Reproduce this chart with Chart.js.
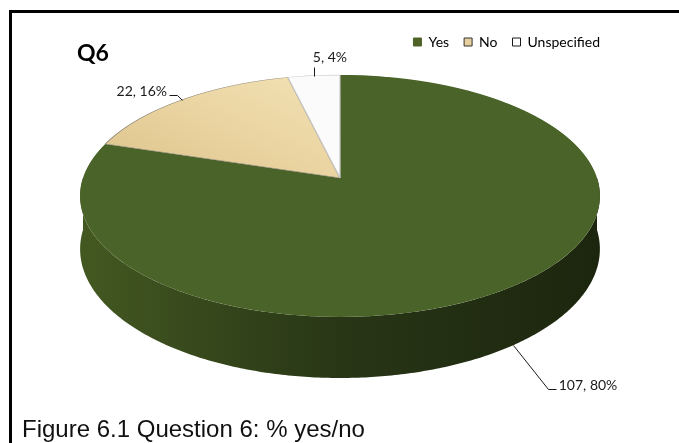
<!DOCTYPE html>
<html>
<head>
<meta charset="utf-8">
<title>Q6</title>
<script src="https://cdn.jsdelivr.net/npm/chart.js@4.4.0/dist/chart.umd.min.js"></script>
<style>
  html, body { margin: 0; padding: 0; background: #ffffff; }
  #wrap { position: relative; width: 679px; height: 443px; overflow: hidden; }
  canvas { display: block; }
</style>
</head>
<body>
<div id="wrap"><canvas id="chart" width="679" height="443"></canvas></div>
<script>
// ---- data ----
const categories = ['Yes', 'No', 'Unspecified'];
const responses = [107, 22, 5];
const chartTitle = 'Q6';
const caption = 'Figure 6.1 Question 6: % yes/no';

// ---- styles ----
const topColors = ['#4a6328', '#e8d29f', '#fbfbfb'];
const sideShades = [
  ['#435821', '#283616', '#1c260e'],
  ['#cbb17c', '#ad955f', '#8c774d'],
  ['#dddddd', '#c4c4c4', '#a8a8a8']
];
const rimColors = ['#4a6328', '#8f8878', '#c8c8c8'];
const rimWidths = [0, 0.8, 0.8];
const legendFill = ['#4f6228', '#e6cf9c', '#ffffff'];
const legendStroke = ['#4f6228', '#333333', '#1a1a1a'];

// perspective view of the pie disc
const view = { rx: 257, ryBack: 103, ryFront: 139, depth: 52 };

// label leader layout: elbow offset from the rim anchor, tail length, text side
const labelLayout = [
  { dx: 35, dy: 44, tail: 8, side: 'right' },
  { dx: -5, dy: -5, tail: 8, side: 'left' },
  { dx: 0, dy: -9, tail: 0, side: 'up' }
];

function viewGeometry(chart) {
  const arcs = chart.getDatasetMeta(0).data;
  const a0 = arcs[0];
  const k = (view.ryBack - view.ryFront) / (view.ryBack + view.ryFront);
  const A = view.ryFront * (1 + k);
  const cx = a0.x;
  const cy = chart.chartArea.bottom - view.ryFront - view.depth / (1 + k);
  const proj = (u, v) => {
    const w = 1 + k * v;
    return { x: cx + view.rx * u / w, y: cy + A * v / w, d: view.depth / w };
  };
  return { k, A, cx, cy, R: a0.outerRadius, ox: a0.x, oy: a0.y, proj, arcs };
}

function drawSides(chart, g) {
  const ctx = chart.ctx;
  g.arcs.forEach((arc, i) => {
    const grad = ctx.createLinearGradient(g.cx - view.rx, 0, g.cx + view.rx, 0);
    grad.addColorStop(0, sideShades[i][0]);
    grad.addColorStop(0.5, sideShades[i][1]);
    grad.addColorStop(1, sideShades[i][2]);
    for (let turn = -1; turn <= 1; turn++) {
      const a = Math.max(arc.startAngle, turn * 2 * Math.PI);
      const b = Math.min(arc.endAngle, turn * 2 * Math.PI + Math.PI);
      if (b <= a) continue;
      const steps = Math.max(8, Math.ceil((b - a) * 90));
      const topPts = [], botPts = [];
      for (let s = 0; s <= steps; s++) {
        const t = a + (b - a) * s / steps;
        const p = g.proj(Math.cos(t), Math.sin(t));
        topPts.push([p.x, p.y]);
        botPts.push([p.x, p.y + p.d]);
      }
      ctx.save();
      ctx.beginPath();
      topPts.forEach((p, j) => j ? ctx.lineTo(p[0], p[1]) : ctx.moveTo(p[0], p[1]));
      for (let j = botPts.length - 1; j >= 0; j--) ctx.lineTo(botPts[j][0], botPts[j][1]);
      ctx.closePath();
      ctx.fillStyle = grad;
      ctx.fill();
      ctx.restore();
    }
  });
}

// the top face: each pixel row is drawn by the arc elements with the
// local affine part of the perspective mapping
function drawTop(chart, g) {
  const ctx = chart.ctx;
  const dpr = chart.currentDevicePixelRatio || 1;
  const y0 = Math.floor(g.cy - view.ryBack) - 2;
  const y1 = Math.ceil(g.cy + view.ryFront) + 2;
  for (let y = y0; y < y1; y++) {
    const ym = y + 0.5 - g.cy;
    const v = ym / (g.A - g.k * ym);
    const w = 1 + g.k * v;
    const sx = view.rx / w;
    const sy = g.A / (w * w);
    ctx.save();
    ctx.setTransform(dpr, 0, 0, dpr, 0, 0);
    ctx.beginPath();
    ctx.rect(0, y, chart.width, 1);
    ctx.clip();
    ctx.setTransform(
      dpr * sx / g.R, 0, 0, dpr * sy / g.R,
      dpr * (g.cx - sx * g.ox / g.R),
      dpr * (y + 0.5 - sy * (g.oy / g.R + v))
    );
    g.arcs.forEach(a => a.draw(ctx));
    ctx.restore();
  }
}

function drawLabels(chart, g) {
  const ctx = chart.ctx;
  const values = chart.data.datasets[0].data;
  const total = values.reduce((s, x) => s + x, 0);
  ctx.save();
  ctx.font = '14px Lato';
  ctx.fillStyle = '#1a1a1a';
  ctx.strokeStyle = '#1a1a1a';
  ctx.lineWidth = 1;
  g.arcs.forEach((arc, i) => {
    const mid = (arc.startAngle + arc.endAngle) / 2;
    const u = Math.cos(mid), v = Math.sin(mid);
    const p = g.proj(u, v);
    const ax = p.x, ay = v > 0 ? p.y + p.d : p.y;
    const L = labelLayout[i];
    const ex = ax + L.dx, ey = ay + L.dy;
    const text = values[i] + ', ' + Math.round(values[i] / total * 100) + '%';
    ctx.beginPath();
    ctx.moveTo(Math.round(ax) + 0.5, Math.round(ay) + 0.5);
    ctx.lineTo(Math.round(ex) + 0.5, Math.round(ey) + 0.5);
    let tx = ex;
    if (L.side === 'right') { tx = ex + L.tail; ctx.lineTo(Math.round(tx) + 0.5, Math.round(ey) + 0.5); }
    if (L.side === 'left') { tx = ex - L.tail; ctx.lineTo(Math.round(tx) + 0.5, Math.round(ey) + 0.5); }
    ctx.stroke();
    ctx.textBaseline = 'middle';
    if (L.side === 'right') { ctx.textAlign = 'left'; ctx.fillText(text, tx + 3, ey - 4); }
    else if (L.side === 'left') { ctx.textAlign = 'right'; ctx.fillText(text, tx - 2, ey - 3); }
    else { ctx.textAlign = 'left'; ctx.fillText(text, ex - 1, ey - 9.5); }
  });
  ctx.restore();
}

const pie3d = {
  id: 'pie3d',
  beforeDraw(chart) {
    const ctx = chart.ctx;
    ctx.save();
    ctx.fillStyle = '#ffffff';
    ctx.fillRect(0, 0, chart.width, chart.height);
    ctx.restore();
  },
  beforeDatasetsDraw(chart) {
    const g = viewGeometry(chart);
    drawSides(chart, g);
    drawTop(chart, g);
    return false;
  },
  afterDraw(chart) {
    const g = viewGeometry(chart);
    drawLabels(chart, g);
    const ctx = chart.ctx;
    ctx.save();
    // frame
    ctx.fillStyle = '#000000';
    ctx.fillRect(9, 10, 3, chart.height - 10);
    ctx.fillRect(9, 10, chart.width - 9, 3);
    // heading and caption
    ctx.textAlign = 'left';
    ctx.textBaseline = 'alphabetic';
    ctx.font = 'bold 23px Lato';
    ctx.fillText(chartTitle, 77, 61);
    ctx.font = '24px "Liberation Sans"';
    ctx.fillStyle = '#111111';
    ctx.fillText(caption, 22, 437);
    ctx.restore();
  }
};

function noGradient(context) {
  const chart = context.chart;
  const area = chart.chartArea;
  if (!area) return topColors[1];
  const cx = (area.left + area.right) / 2, cy = (area.top + area.bottom) / 2;
  const r = Math.min(area.right - area.left, area.bottom - area.top) / 2;
  const gr = chart.ctx.createLinearGradient(cx - r, cy, cx, cy - r);
  gr.addColorStop(0, '#dcc28a');
  gr.addColorStop(0.5, '#ead4a1');
  gr.addColorStop(1, '#f3e3b7');
  return gr;
}

new Chart(document.getElementById('chart'), {
  type: 'pie',
  data: {
    labels: categories,
    datasets: [{
      data: responses,
      backgroundColor: (c) => c.dataIndex === 1 ? noGradient(c) : topColors[c.dataIndex],
      borderColor: rimColors,
      borderWidth: rimWidths
    }]
  },
  options: {
    responsive: false,
    animation: false,
    events: [],
    layout: { padding: { top: 20, right: 64, bottom: 65, left: 65 } },
    plugins: {
      tooltip: { enabled: false },
      title: { display: false },
      legend: {
        display: true,
        position: 'top',
        align: 'end',
        labels: {
          boxWidth: 8,
          boxHeight: 8,
          padding: 15,
          color: '#1a1a1a',
          font: { family: 'Lato', size: 14 },
          generateLabels: (chart) => chart.data.labels.map((text, i) => ({
            text,
            fillStyle: legendFill[i],
            strokeStyle: legendStroke[i],
            lineWidth: 1,
            hidden: false,
            index: i
          }))
        }
      }
    }
  },
  plugins: [pie3d]
});
</script>
</body>
</html>
